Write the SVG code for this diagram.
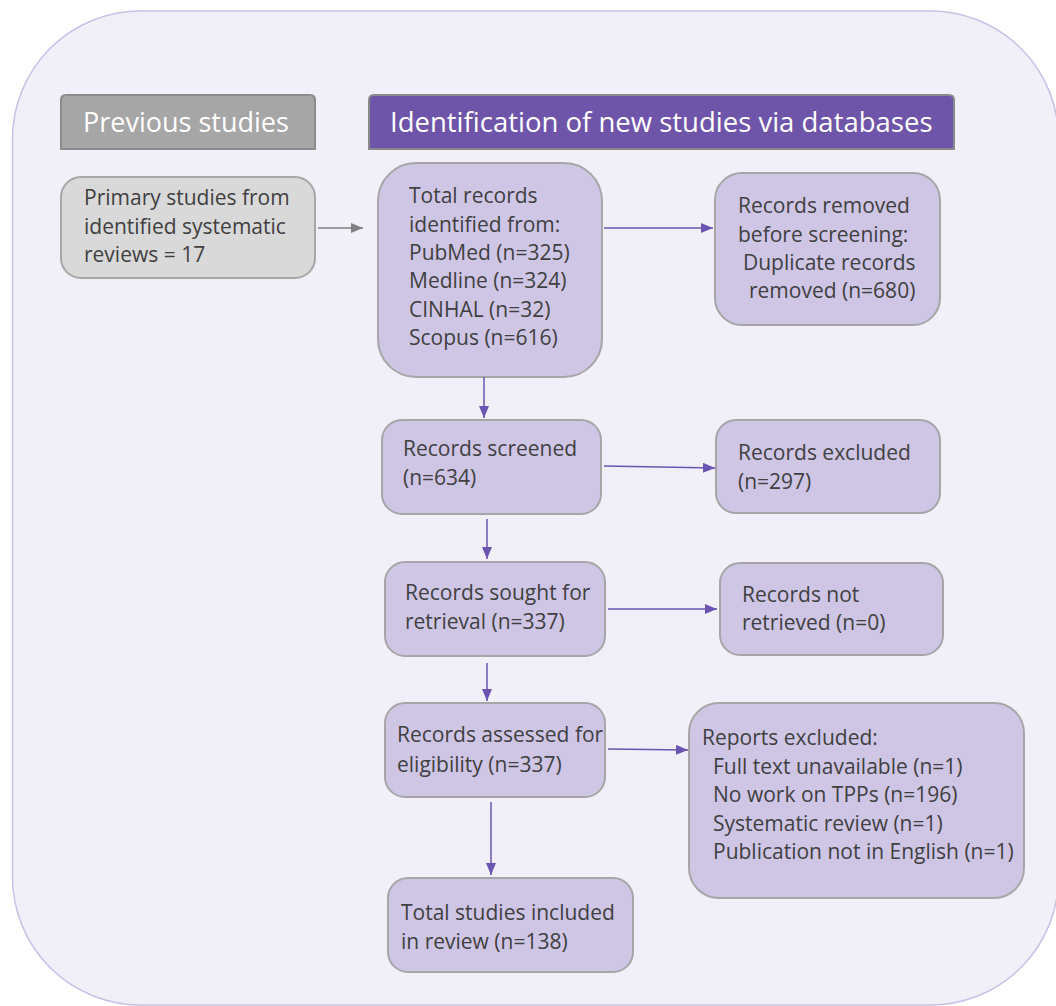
<svg xmlns="http://www.w3.org/2000/svg" width="1056" height="1006" viewBox="0 0 1056 1006">
<defs>
<style>
.bg{fill:#f1f0f9;stroke:#c7c1e5;stroke-width:1.5}
.hd{stroke:#8a8a8a;stroke-width:2}
.ht{font-family:"Open Sans","Liberation Sans",sans-serif;font-size:27px;fill:#ffffff}
.n{fill:#cfc6e6;stroke:#a6a6a6;stroke-width:2}
.g{fill:#d9d9d9;stroke:#a6a6a6;stroke-width:2}
.t{font-family:"Open Sans","Liberation Sans",sans-serif;font-size:21px;fill:#404040}
.c{fill:none;stroke:#6b55b0;stroke-width:1.5}
.cg{fill:none;stroke:#808080;stroke-width:1.5}
</style>
<marker id="ap" viewBox="0 0 12 10" refX="12" refY="5" markerWidth="12" markerHeight="10" markerUnits="userSpaceOnUse" orient="auto"><path d="M0,0 L12,5 L0,10 Z" fill="#6b55b0"/></marker>
<marker id="ag" viewBox="0 0 12 10" refX="12" refY="5" markerWidth="12" markerHeight="10" markerUnits="userSpaceOnUse" orient="auto"><path d="M0,0 L12,5 L0,10 Z" fill="#808080"/></marker>
</defs>
<rect class="bg" x="12.5" y="11" width="1046" height="994" rx="128" ry="128"/>

<g id="hdr-previous">
<path class="hd" fill="#a6a6a6" d="M61,149 L61,100 Q61,95 66,95 L310,95 Q315,95 315,100 L315,149 Z"/>
<text class="ht" x="83" y="132">Previous studies</text>
</g>
<g id="hdr-identification">
<path class="hd" fill="#6f55a9" d="M369,149 L369,100 Q369,95 374,95 L949,95 Q954,95 954,100 L954,149 Z"/>
<text class="ht" x="390" y="132" style="font-size:27.5px">Identification of new studies via databases</text>
</g>

<g id="primary">
<rect class="g" x="61" y="177" width="254" height="101" rx="20"/>
<text class="t" x="84" y="205">Primary studies from</text>
<text class="t" x="84" y="233.5">identified systematic</text>
<text class="t" x="84" y="262">reviews = 17</text>
</g>
<g id="total-records">
<rect class="n" x="378" y="163" width="224" height="214" rx="38"/>
<text class="t" x="409" y="203">Total records</text>
<text class="t" x="409" y="231.5">identified from:</text>
<text class="t" x="409" y="260">PubMed (n=325)</text>
<text class="t" x="409" y="288">Medline (n=324)</text>
<text class="t" x="409" y="316.5">CINHAL (n=32)</text>
<text class="t" x="409" y="345">Scopus (n=616)</text>
</g>
<g id="removed">
<rect class="n" x="715" y="173" width="225" height="152" rx="27"/>
<text class="t" x="738" y="213">Records removed</text>
<text class="t" x="738" y="241.5">before screening:</text>
<text class="t" x="743" y="269.5">Duplicate records</text>
<text class="t" x="749" y="297.5">removed (n=680)</text>
</g>
<g id="screened">
<rect class="n" x="382" y="420" width="219" height="94" rx="20"/>
<text class="t" x="403" y="456">Records screened</text>
<text class="t" x="403" y="485">(n=634)</text>
</g>
<g id="excluded">
<rect class="n" x="716" y="420" width="224" height="93" rx="20"/>
<text class="t" x="738" y="460">Records excluded</text>
<text class="t" x="738" y="489">(n=297)</text>
</g>
<g id="sought">
<rect class="n" x="385" y="562" width="220" height="94" rx="20"/>
<text class="t" x="405" y="600">Records sought for</text>
<text class="t" x="405" y="629">retrieval (n=337)</text>
</g>
<g id="not-retrieved">
<rect class="n" x="720" y="563" width="223" height="92" rx="20"/>
<text class="t" x="742" y="602">Records not</text>
<text class="t" x="742" y="630">retrieved (n=0)</text>
</g>
<g id="assessed">
<rect class="n" x="385" y="703" width="220" height="94" rx="20"/>
<text class="t" x="397" y="742">Records assessed for</text>
<text class="t" x="397" y="772">eligibility (n=337)</text>
</g>
<g id="reports-excluded">
<rect class="n" x="689" y="703" width="335" height="195" rx="30"/>
<text class="t" x="702" y="745">Reports excluded:</text>
<text class="t" x="713" y="773.5">Full text unavailable (n=1)</text>
<text class="t" x="713" y="802">No work on TPPs (n=196)</text>
<text class="t" x="713" y="830.5">Systematic review (n=1)</text>
<text class="t" x="713" y="859">Publication not in English (n=1)</text>
</g>
<g id="included">
<rect class="n" x="388" y="878" width="245" height="94" rx="20"/>
<text class="t" x="401" y="920">Total studies included</text>
<text class="t" x="401" y="949">in review (n=138)</text>
</g>

<g id="connectors">
<line class="cg" x1="318" y1="228" x2="363" y2="228" marker-end="url(#ag)"/>
<line class="c" x1="604" y1="228" x2="713" y2="228" marker-end="url(#ap)"/>
<line class="c" x1="484" y1="377" x2="484" y2="418" marker-end="url(#ap)"/>
<line class="c" x1="604" y1="466" x2="715" y2="468" marker-end="url(#ap)"/>
<line class="c" x1="487" y1="519" x2="487" y2="559" marker-end="url(#ap)"/>
<line class="c" x1="608" y1="609" x2="717" y2="609" marker-end="url(#ap)"/>
<line class="c" x1="487" y1="663" x2="487" y2="701" marker-end="url(#ap)"/>
<line class="c" x1="608" y1="749" x2="688" y2="750" marker-end="url(#ap)"/>
<line class="c" x1="491" y1="802" x2="491" y2="875" marker-end="url(#ap)"/>
</g>
</svg>
